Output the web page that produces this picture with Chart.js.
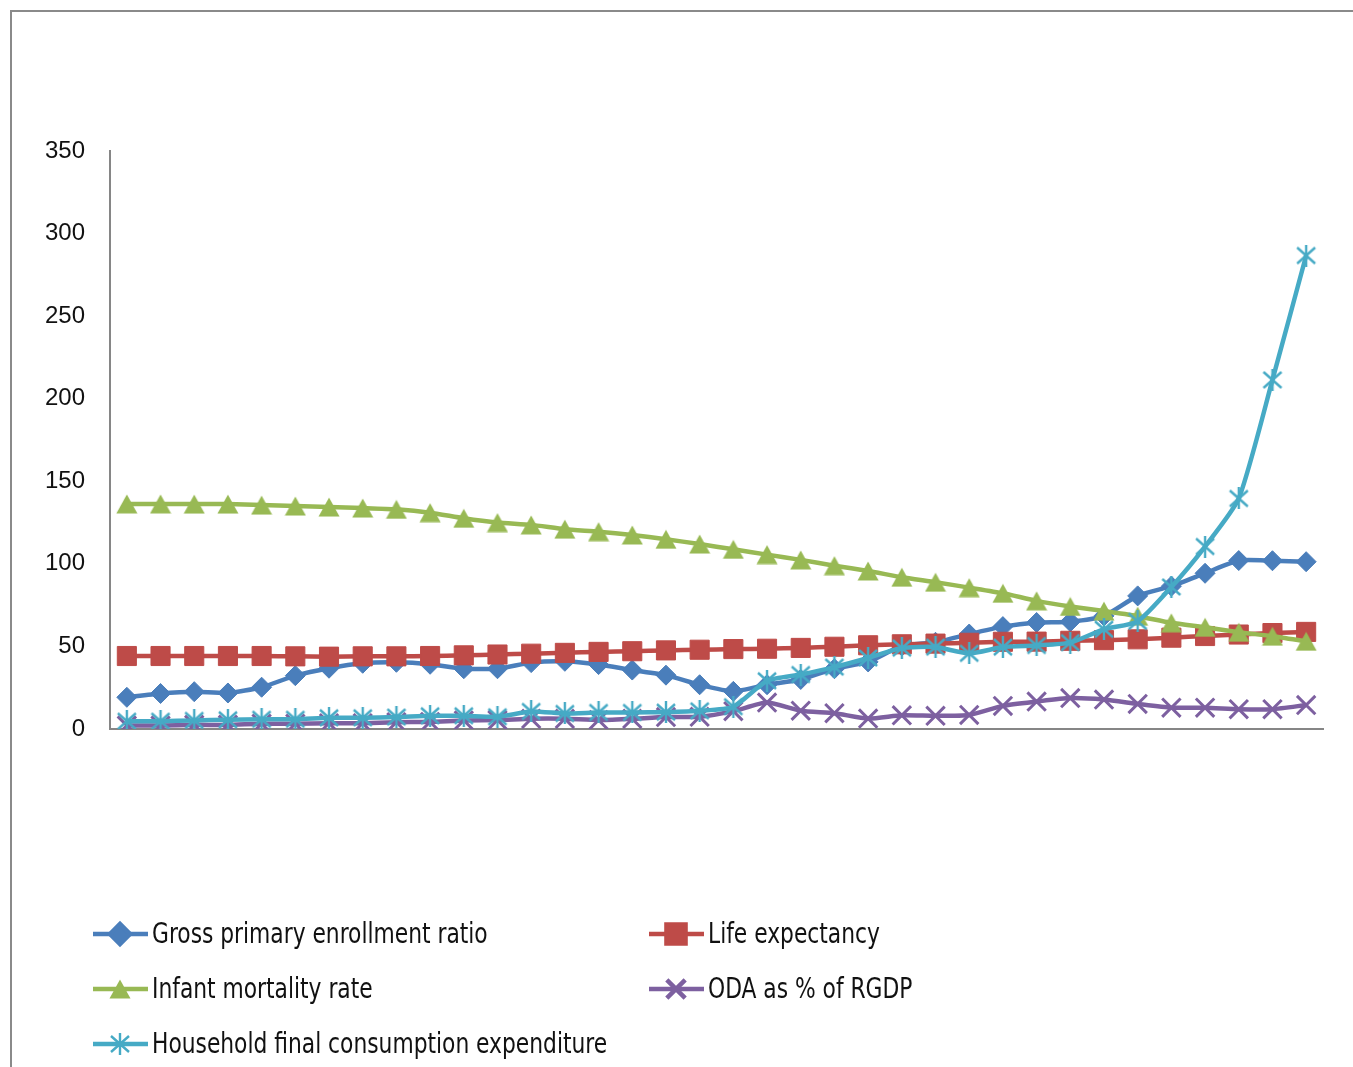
<!DOCTYPE html>
<html>
<head>
<meta charset="utf-8">
<title>Indicators</title>
<script src="https://cdn.jsdelivr.net/npm/chart.js@4.4.1/dist/chart.umd.min.js"></script>
<style>
  html, body { margin: 0; padding: 0; background: #fff; }
  #wrap { position: absolute; left: 0; top: 0; width: 1353px; height: 1067px; }
</style>
</head>
<body>
<div id="wrap"><canvas id="indicatorChart" width="1353" height="1067"></canvas></div>
<script>
// 36 yearly observations, the x axis has no labels
const periods = ['1', '2', '3', '4', '5', '6', '7', '8', '9', '10', '11', '12',
    '13', '14', '15', '16', '17', '18', '19', '20', '21', '22', '23', '24',
    '25', '26', '27', '28', '29', '30', '31', '32', '33', '34', '35', '36'];

const enrollment = [19.2, 21.5, 22.6, 21.8, 25.3, 32.3, 36.8, 39.8, 40.4, 39.2, 36.5, 36.5,
    40.2, 41.0, 39.0, 35.7, 32.6, 26.8, 22.8, 26.8, 30.0, 36.5, 40.6, 50.3,
    52.5, 57.5, 62.0, 64.5, 65.0, 68.5, 80.6, 86.5, 94.3, 102.0, 101.9, 101.3];

const lifeExpectancy = [44.2, 44.2, 44.2, 44.2, 44.2, 44.0, 43.8, 44.0, 44.0, 44.2, 44.6, 45.1,
    45.6, 46.1, 46.7, 47.1, 47.6, 48.0, 48.4, 48.6, 49.1, 49.8, 50.7, 51.3,
    51.7, 52.2, 52.8, 52.9, 53.4, 53.8, 54.3, 55.3, 56.3, 57.2, 58.1, 58.8];

const infantMortality = [136.3, 136.3, 136.2, 136.2, 135.6, 135.0, 134.4, 133.8, 133.0, 131.0, 127.6, 125.0,
    123.6, 121.0, 119.5, 117.5, 114.9, 112.0, 108.8, 105.6, 102.4, 98.9, 95.7, 91.9,
    88.9, 85.6, 82.2, 77.6, 74.2, 71.4, 68.3, 64.3, 61.6, 58.6, 56.2, 53.1];

const odaShare = [2.1, 2.1, 2.5, 2.5, 3.2, 3.2, 3.5, 3.5, 4.1, 4.3, 5.2, 5.4,
    6.2, 6.2, 5.4, 6.2, 7.2, 7.4, 10.8, 16.0, 11.1, 9.6, 6.3, 8.3,
    8.0, 8.5, 14.0, 16.6, 18.7, 17.8, 15.2, 12.9, 12.9, 12.0, 12.0, 14.5];

const householdConsumption = [4.7, 4.7, 5.2, 5.6, 5.9, 5.9, 6.8, 6.8, 7.2, 8.0, 8.0, 7.4,
    10.6, 9.4, 10.0, 10.0, 10.2, 11.0, 13.5, 29.2, 33.0, 37.5, 43.0, 49.0,
    49.6, 45.8, 49.6, 50.6, 52.3, 60.4, 65.2, 86.0, 110.5, 139.6, 211.4, 286.7];

const yTicks = [0, 50, 100, 150, 200, 250, 300, 350];

const BLUE = '#4A7EBB';
const RED = '#BE4B48';
const GREEN = '#98B954';
const PURPLE = '#7D60A0';
const CYAN = '#46AAC5';

// markers that chart.js doesn't have in the right shape
function triangleMarker(color) {
    const c = document.createElement('canvas');
    c.width = 22; c.height = 20;
    const g = c.getContext('2d');
    g.fillStyle = color;
    g.beginPath();
    g.moveTo(11, 0.5);
    g.lineTo(21.5, 19.5);
    g.lineTo(0.5, 19.5);
    g.closePath();
    g.fill();
    return c;
}

function starMarker(color) {
    const c = document.createElement('canvas');
    c.width = 22; c.height = 22;
    const g = c.getContext('2d');
    g.strokeStyle = color;
    g.lineWidth = 2.4;
    g.lineCap = 'butt';
    g.beginPath();
    g.moveTo(2, 3); g.lineTo(20, 19);
    g.moveTo(20, 3); g.lineTo(2, 19);
    g.moveTo(11, 0); g.lineTo(11, 22);
    g.stroke();
    return c;
}

function series(label, data, color, style, radius, border, order) {
    return {
        label: label,
        data: data,
        borderColor: color,
        backgroundColor: color,
        borderWidth: 4.5,
        pointStyle: style,
        pointRadius: radius,
        pointBorderWidth: border,
        pointBackgroundColor: color,
        pointBorderColor: color,
        tension: 0.2,
        order: order
    };
}

// legend laid out as a two column grid under the plot
const gridLegend = {
    id: 'gridLegend',
    afterDraw(chart) {
        const ctx = chart.ctx;
        const cols = [93, 649];
        chart.data.datasets.forEach((ds, i) => {
            const x0 = cols[i % 2];
            const y = 934 + Math.floor(i / 2) * 55;
            ctx.save();
            ctx.strokeStyle = ds.borderColor;
            ctx.lineWidth = 4.5;
            ctx.beginPath();
            ctx.moveTo(x0, y);
            ctx.lineTo(x0 + 55, y);
            ctx.stroke();
            ctx.fillStyle = ds.pointBackgroundColor;
            ctx.strokeStyle = ds.pointBorderColor;
            Chart.helpers.drawPoint(ctx, {
                pointStyle: ds.pointStyle,
                radius: ds.pointRadius,
                borderWidth: ds.pointBorderWidth,
                rotation: 0
            }, x0 + 27, y);
            // narrow the label text a little
            ctx.translate(x0 + 59, y + 2);
            ctx.scale(0.865, 1);
            ctx.fillStyle = '#111';
            ctx.font = '28px "Liberation Sans Narrow", "DejaVu Sans Condensed", sans-serif';
            ctx.textBaseline = 'middle';
            ctx.textAlign = 'left';
            ctx.fillText(ds.label, 0, 0);
            ctx.restore();
        });
    }
};

// outer frame of the chart box
const frame = {
    id: 'frame',
    beforeDraw(chart) {
        const ctx = chart.ctx;
        ctx.save();
        ctx.fillStyle = '#fff';
        ctx.fillRect(0, 0, chart.width, chart.height);
        ctx.strokeStyle = '#8a8a8a';
        ctx.lineWidth = 2;
        ctx.beginPath();
        ctx.moveTo(11, chart.height);
        ctx.lineTo(11, 11);
        ctx.lineTo(chart.width, 11);
        ctx.stroke();
        ctx.restore();
    }
};

const ctx = document.getElementById('indicatorChart');
let indicatorChart = new Chart(ctx, {
    type: 'line',
    data: {
        labels: periods,
        datasets: [
            series('Gross primary enrollment ratio', enrollment, BLUE, 'rectRot', 10, 1, 4),
            series('Life expectancy', lifeExpectancy, RED, 'rect', 13.5, 1, 3),
            series('Infant mortality rate', infantMortality, GREEN, triangleMarker(GREEN), 10, 0, 2),
            series('ODA as % of RGDP', odaShare, PURPLE, 'crossRot', 13, 3, 1),
            series('Household final consumption expenditure', householdConsumption, CYAN, starMarker(CYAN), 11, 0, 0)
        ]
    },
    options: {
        responsive: false,
        animation: false,
        layout: {
            padding: { left: 0, top: 151, right: 30, bottom: 338 }
        },
        scales: {
            x: {
                offset: true,
                grid: { display: false, drawTicks: false },
                border: { display: true, color: '#868686', width: 2 },
                ticks: { display: false },
                afterFit(scale) { scale.height = 0; }
            },
            y: {
                min: 0,
                max: 350,
                afterBuildTicks(scale) {
                    scale.ticks = yTicks.map(v => ({ value: v }));
                },
                grid: { display: false, drawTicks: false },
                border: { display: true, color: '#868686', width: 2 },
                ticks: {
                    color: '#111',
                    padding: 25,
                    font: { family: '"Liberation Sans", Arial, sans-serif', size: 24 }
                },
                afterFit(scale) { scale.width = 110; }
            }
        },
        plugins: {
            legend: { display: false },
            tooltip: { enabled: false }
        }
    },
    plugins: [frame, gridLegend]
});
</script>
</body>
</html>
